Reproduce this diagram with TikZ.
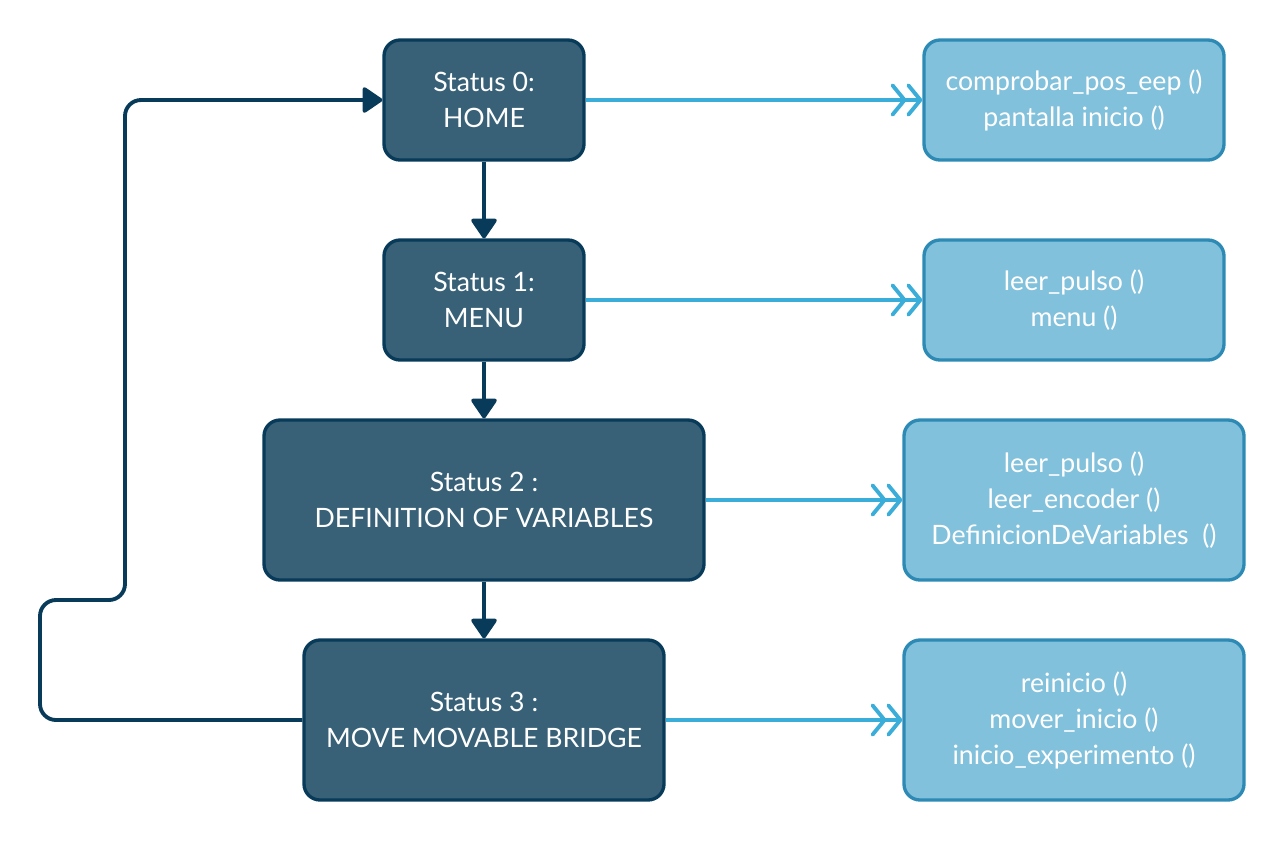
\documentclass[tikz,border=0pt]{standalone}
\usepackage{fontspec}
\setmainfont{Lato}
\usetikzlibrary{arrows.meta}
\definecolor{darkfill}{HTML}{386178}
\definecolor{darkline}{HTML}{083A5A}
\definecolor{lightfill}{HTML}{82C1DC}
\definecolor{lightline}{HTML}{2D8AB5}
\definecolor{arrowblue}{HTML}{3AADD9}
\tikzset{
  statebox/.style={draw=darkline, fill=darkfill, line width=2.5pt, rounded corners=12pt, text=white, align=center, font=\fontsize{20}{27}\selectfont, inner sep=0pt},
  funcbox/.style={draw=lightline, fill=lightfill, line width=2.5pt, rounded corners=12pt, text=white, align=center, font=\fontsize{20}{27}\selectfont, inner sep=0pt},
  flow/.style={draw=darkline, line width=2.9pt, -{Triangle[round,length=16pt,width=21pt]}},
  loopline/.style={draw=darkline, line width=2.9pt, rounded corners=12pt, -{Triangle[round,length=16pt,width=21pt]}},
  call/.style={draw=arrowblue, line width=2.9pt, -{Straight Barb[round,length=9pt,width=22pt] Straight Barb[round,length=9pt,width=22pt]}}
}
\begin{document}
\begin{tikzpicture}[x=0.75pt,y=-0.75pt]
\useasboundingbox (0,0) rectangle (1284,840);
\node[statebox, minimum width=200*0.75pt, minimum height=120*0.75pt] (s0) at (484,100) {Status 0:\\HOME};
\node[statebox, minimum width=200*0.75pt, minimum height=120*0.75pt] (s1) at (484,300) {Status 1:\\MENU};
\node[statebox, minimum width=440*0.75pt, minimum height=160*0.75pt] (s2) at (484,500) {Status 2 :\\DEFINITION OF VARIABLES};
\node[statebox, minimum width=360*0.75pt, minimum height=160*0.75pt] (s3) at (484,720) {Status 3 :\\MOVE MOVABLE BRIDGE};
\node[funcbox, minimum width=300*0.75pt, minimum height=120*0.75pt] (f0) at (1074,100) {comprobar\_pos\_eep ()\\pantalla inicio ()};
\node[funcbox, minimum width=300*0.75pt, minimum height=120*0.75pt] (f1) at (1074,300) {leer\_pulso ()\\menu ()};
\node[funcbox, minimum width=340*0.75pt, minimum height=160*0.75pt] (f2) at (1074,500) {leer\_pulso ()\\leer\_encoder ()\\DefinicionDeVariables~ ()};
\node[funcbox, minimum width=340*0.75pt, minimum height=160*0.75pt] (f3) at (1074,720) {reinicio ()\\mover\_inicio ()\\inicio\_experimento ()};
\draw[flow] (s0.south) -- (s1.north);
\draw[flow] (s1.south) -- (s2.north);
\draw[flow] (s2.south) -- (s3.north);
\coordinate (a) at (40,720);
\coordinate (b) at (40,600);
\coordinate (c) at (125,600);
\coordinate (d) at (125,100);
\draw[loopline] (s3.west) -- (a) -- (b) -- (c) -- (d) -- (s0.west);
\draw[call] (s0.east) -- (f0.west);
\draw[call] (s1.east) -- (f1.west);
\draw[call] (s2.east) -- (f2.west);
\draw[call] (s3.east) -- (f3.west);
\end{tikzpicture}
\end{document}
